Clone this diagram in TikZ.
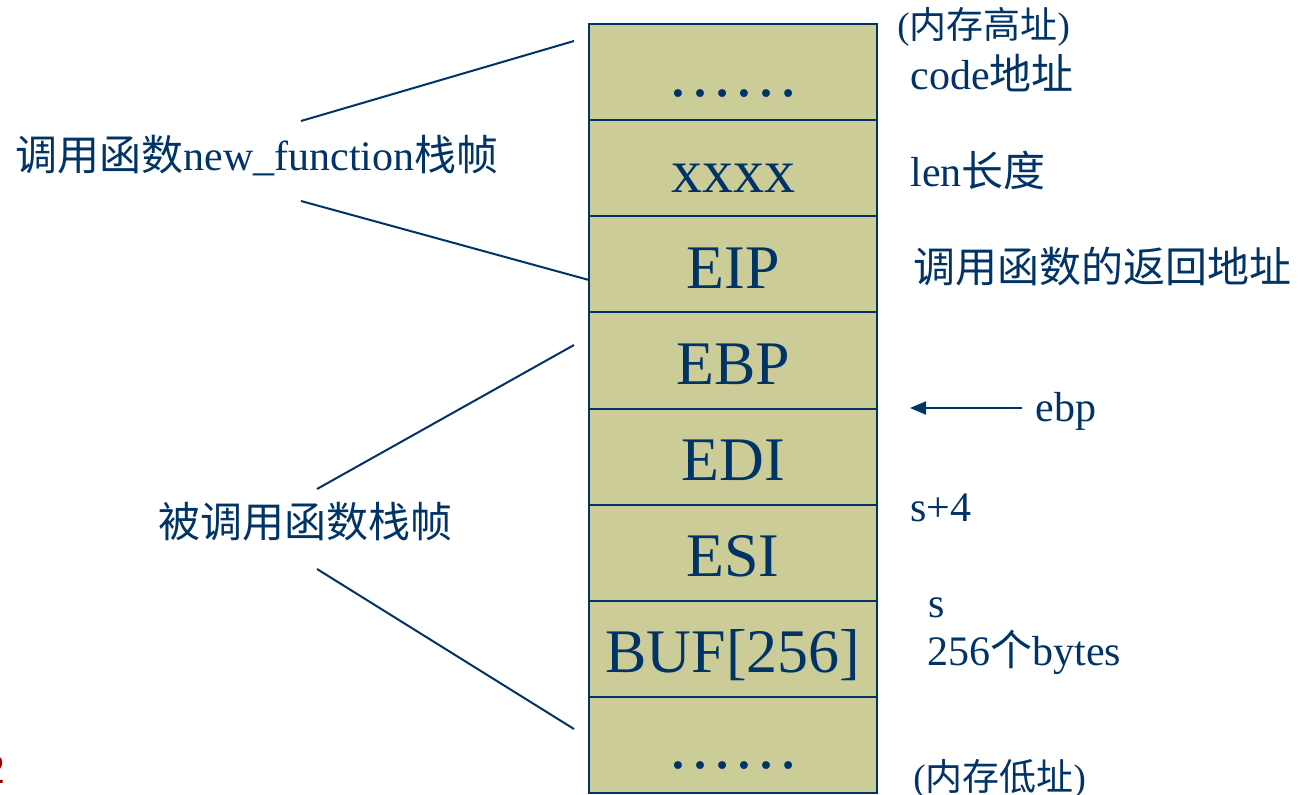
\documentclass[tikz,border=0pt]{standalone}
\usepackage{fontspec}
\setmainfont{Liberation Serif}
\newfontfamily\cjf{Noto Sans CJK SC}
\newcommand{\cj}[1]{{\cjf #1}}
\usetikzlibrary{arrows.meta}
\definecolor{navy}{RGB}{0,51,102}
\definecolor{khaki}{RGB}{204,204,153}
\definecolor{pgred}{RGB}{153,0,0}
\begin{document}
\begin{tikzpicture}[x=0.5pt,y=-0.5pt,
  cell/.style={draw=navy,line width=1pt,fill=khaki,minimum width=144pt,minimum height=48.06pt,inner sep=0pt,text height=24pt,text depth=0pt,font=\fontsize{31}{31}\selectfont,text=navy},
  dots/.style={cell,font=\fontsize{33}{33}\selectfont},
  lbl/.style={anchor=base west,inner sep=0pt,text=navy,font=\fontsize{21}{21}\selectfont},
  note/.style={lbl,font=\fontsize{18.5}{18.5}\selectfont},
  link/.style={draw=navy,line width=1pt}]
\useasboundingbox (0,0) rectangle (1298,794);
% stack cells
\node[dots] (c1) at (733,72.06) {……};
\node[cell] (c2) at (733,168.19) {xxxx};
\node[cell] (c3) at (733,264.31) {EIP};
\node[cell] (c4) at (733,360.44) {EBP};
\node[cell] (c5) at (733,456.56) {EDI};
\node[cell] (c6) at (733,552.69) {ESI};
\node[cell] (c7) at (733,648.81) {BUF[256]};
\node[dots] (c8) at (733,744.94) {……};
% right labels
\node[note] (hi) at (897,38) {(\cj{内存高址})};
\node[lbl] (code) at (910,89) {code\cj{地址}};
\node[lbl] (len) at (910,186) {len\cj{长度}};
\node[lbl] (ret) at (913,282) {\cj{调用函数的返回地址}};
\node[lbl] (ebp) at (1035,421) {ebp};
\node[lbl] (s4) at (910,521) {s+4};
\node[lbl] (s) at (928,617) {s};
\node[lbl] (bytes) at (927,665) {256\cj{个}bytes};
\node[note] (lo) at (913,790) {(\cj{内存低址})};
% left labels
\node[lbl] (caller) at (15,170) {\cj{调用函数}new\_function\cj{栈帧}};
\node[lbl] (callee) at (158,537) {\cj{被调用函数栈帧}};
\node[lbl,text=pgred,anchor=base east] (pg) at (6,783) {2};
% bracket lines
\coordinate (a1) at (301,121); \coordinate (a2) at (574,41);
\coordinate (b1) at (301,201); \coordinate (b2) at (589,280);
\coordinate (d1) at (317,489); \coordinate (d2) at (574,345);
\coordinate (e1) at (317,569); \coordinate (e2) at (574,729);
\draw[link] (a1) -- (a2);
\draw[link] (b1) -- (b2);
\draw[link] (d1) -- (d2);
\draw[link] (e1) -- (e2);
% ebp arrow
\coordinate (ar1) at (1022,408); \coordinate (ar2) at (910,408);
\draw[link,-{Triangle[length=8pt,width=6.5pt]}] (ar1) -- (ar2);
\end{tikzpicture}
\end{document}
